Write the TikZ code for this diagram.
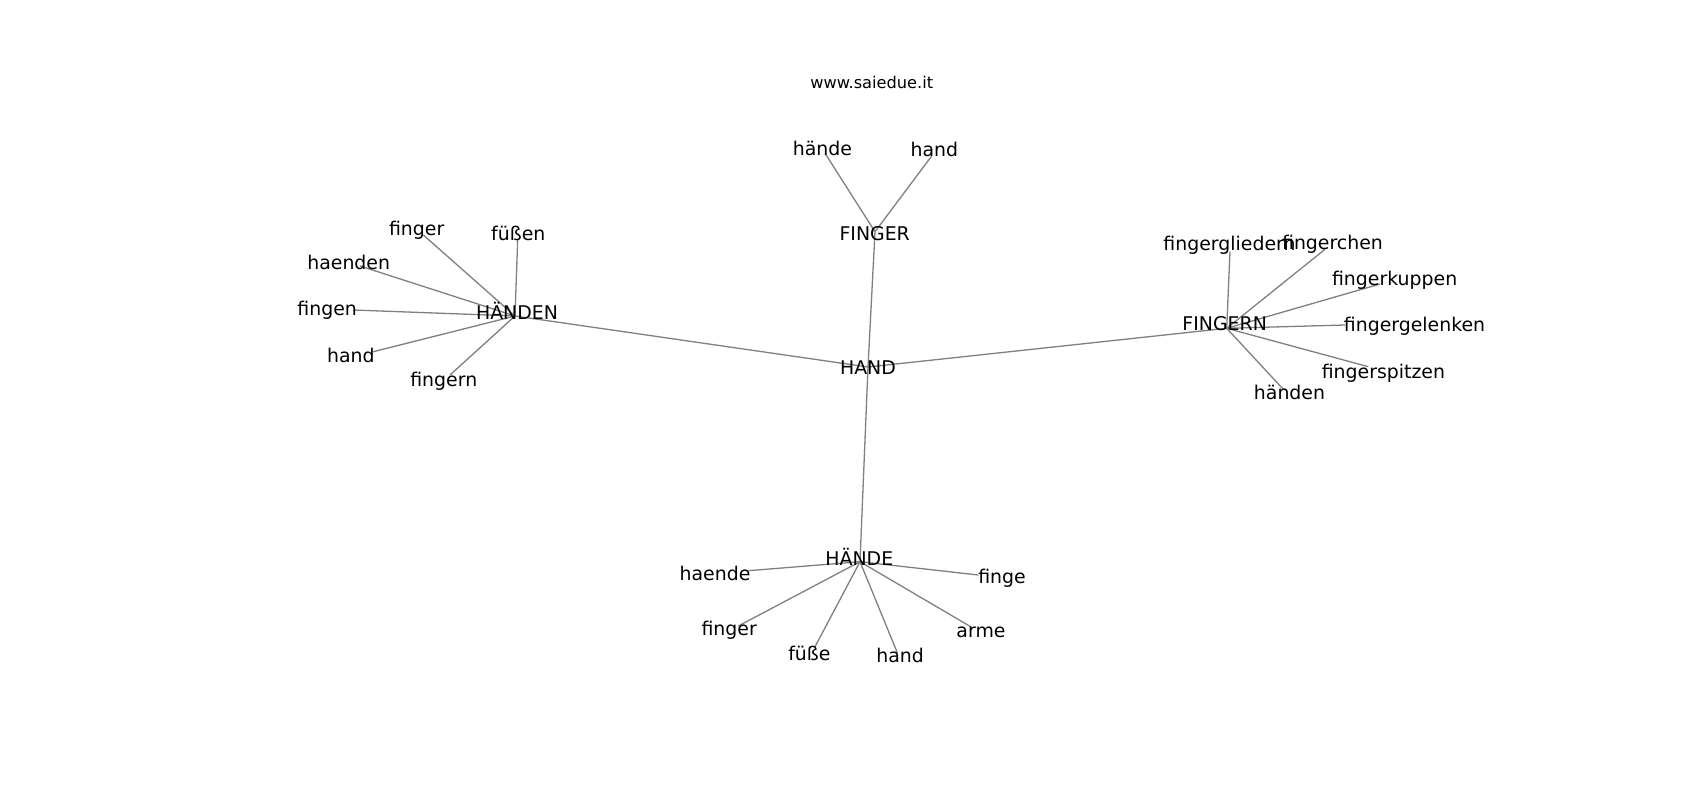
\documentclass[tikz,border=0pt]{standalone}
\usepackage{fontspec}
\setmainfont{DejaVu Sans}
\begin{document}
\begin{tikzpicture}[x=1pt,y=-1pt,
  lbl/.style={anchor=base,inner sep=0pt,font=\fontsize{18.9}{20}\selectfont},
  ttl/.style={anchor=base,inner sep=0pt,font=\fontsize{16.2}{18}\selectfont},
  edge/.style={draw=black!50,line width=1.3pt}]
\useasboundingbox[fill=white] (0,0) rectangle (1700,800);
% hubs (line end points)
\coordinate (pHAND) at (868,367);
\coordinate (pHAENDEN) at (515,316);
\coordinate (pFINGER) at (875,231.7);
\coordinate (pFINGERN) at (1226.7,328.3);
\coordinate (pHAENDE) at (860,561.7);
% leaves of HÄNDEN
\coordinate (pA1) at (423.3,235);
\coordinate (pA2) at (517.7,239.3);
\coordinate (pA3) at (360,266);
\coordinate (pA4) at (353.3,310);
\coordinate (pA5) at (373.3,351.7);
\coordinate (pA6) at (450,375);
% leaves of FINGER
\coordinate (pB1) at (825,153.3);
\coordinate (pB2) at (931.7,156);
% leaves of FINGERN
\coordinate (pC1) at (1230,251.7);
\coordinate (pC2) at (1325,249.3);
\coordinate (pC3) at (1380,284);
\coordinate (pC4) at (1345,325);
\coordinate (pC5) at (1368.3,366.7);
\coordinate (pC6) at (1283.3,389.3);
% leaves of HÄNDE
\coordinate (pD1) at (748.3,570.7);
\coordinate (pD2) at (978.3,575);
\coordinate (pD3) at (738.3,626);
\coordinate (pD4) at (815,646.7);
\coordinate (pD5) at (897.3,652.7);
\coordinate (pD6) at (971.7,627.3);
% edges
\foreach \a/\b in {pHAND/pHAENDEN,pHAND/pFINGER,pHAND/pFINGERN,pHAND/pHAENDE,
  pHAENDEN/pA1,pHAENDEN/pA2,pHAENDEN/pA3,pHAENDEN/pA4,pHAENDEN/pA5,pHAENDEN/pA6,
  pFINGER/pB1,pFINGER/pB2,
  pFINGERN/pC1,pFINGERN/pC2,pFINGERN/pC3,pFINGERN/pC4,pFINGERN/pC5,pFINGERN/pC6,
  pHAENDE/pD1,pHAENDE/pD2,pHAENDE/pD3,pHAENDE/pD4,pHAENDE/pD5,pHAENDE/pD6}
  \draw[edge] (\a) -- (\b);
% labels
\node[ttl] (title) at (871.7,88.3) {www.saiedue.it};
\node[lbl] (HAND) at (868,374.3) {HAND};
\node[lbl] (HAENDEN) at (517,319.3) {HÄNDEN};
\node[lbl] (FINGER) at (874.7,240) {FINGER};
\node[lbl] (FINGERN) at (1224.7,330.7) {FINGERN};
\node[lbl] (HAENDE) at (859.3,565) {HÄNDE};
\node[lbl] (A1) at (416.7,235) {finger};
\node[lbl] (A2) at (518.3,240.7) {füßen};
\node[lbl] (A3) at (348.7,269.3) {haenden};
\node[lbl] (A4) at (327.2,315) {fingen};
\node[lbl] (A5) at (350.8,362.7) {hand};
\node[lbl] (A6) at (443.8,386.7) {fingern};
\node[lbl] (B1) at (822.4,155) {hände};
\node[lbl] (B2) at (934.4,156) {hand};
\node[lbl] (C1) at (1229.5,250.7) {fingergliedern};
\node[lbl] (C2) at (1332.5,249.3) {fingerchen};
\node[lbl] (C3) at (1394.6,285) {fingerkuppen};
\node[lbl] (C4) at (1414.5,331.7) {fingergelenken};
\node[lbl] (C5) at (1383.4,378) {fingerspitzen};
\node[lbl] (C6) at (1289.5,399) {händen};
\node[lbl] (D1) at (715,580) {haende};
\node[lbl] (D2) at (1002,583.3) {finge};
\node[lbl] (D3) at (729.2,635) {finger};
\node[lbl] (D4) at (809.4,660) {füße};
\node[lbl] (D5) at (900.1,662.7) {hand};
\node[lbl] (D6) at (981,637.3) {arme};
\end{tikzpicture}
\end{document}
